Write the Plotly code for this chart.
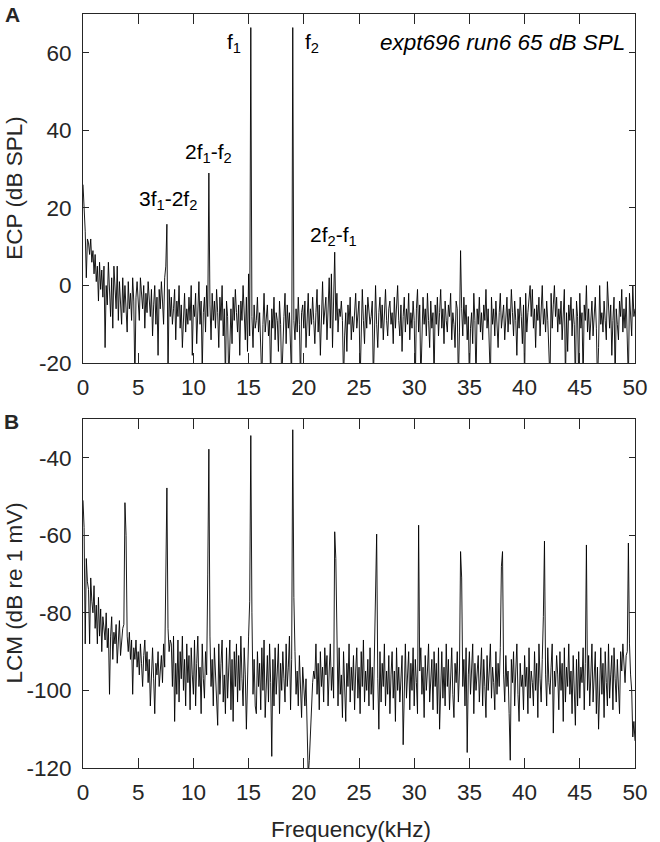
import plotly.graph_objects as go

# spectrum bin spacing (kHz)
FREQ_STEP_KHZ = 0.1

# Panel A: ear-canal pressure, dB SPL, one value per 0.1 kHz bin (None = tone bin, see peaks below)
ecp_floor_db = [
    26, 19, 14, 2, 12, 11, 8, 12, 6, 9,              # 0
    3, 8, 1, 5, -4, 6, -1, 4, -3, 5,                 # 1
    -16, 0, -5, 6, -3, -8, 2, -11, 5, -2,            # 2
    -6, 5, -9, 1, -4, -10, 2, -7, 0, -5,             # 3
    -12, 1, -6, -2, -9, 2, -4, -25, -3, 1,           # 4
    -5, -9, 2, -3, -6, 0, -11, -2, -7, 1,            # 5
    -4, -8, -1, -13, -5, 0, -10, -3, -18, -1,        # 6
    -6, 1, -4, -10, 2, 5, None, -25, -1, -8,         # 7
    -3, -10, -6, -1, -14, -4, -8, 0, -11, -5,        # 8
    -16, -7, -2, -12, -6, -10, -3, -9, 0, -18,       # 9
    -5, -8, -2, -15, -6, 1, -10, -4, -22, -7,        # 10
    -3, -12, 0, -8, None, -5, -14, -2, -9, -4,       # 11
    -11, -1, -7, -16, -3, -9, 0, -13, -6, -25,       # 12
    -4, -8, -25, -11, -6, -15, -3, -9, -1, -7,       # 13
    -12, -5, -18, -4, -9, 0, -7, -14, -3, -17,       # 14
    3, -13, None, -8, -16, -5, -11, -9, -3, -12,     # 15
    -7, -15, -25, -10, -2, -12, -8, -5, -13, -9,     # 16
    -25, -6, -11, -3, -14, -7, -9, -17, -4, -10,     # 17
    -25, -13, -8, -2, -15, -5, -11, -7, -19, -25,    # 18
    None, -9, -14, -6, -12, -3, -10, -25, -7, -5,    # 19
    -11, -4, -16, -8, -2, -13, -6, -10, -3, -9,      # 20
    -15, -7, -1, -12, -5, -18, -8, 1, -10, -6,       # 21
    -3, -14, -7, 2, -11, 3, -16, -4, None, -9,       # 22
    -2, -12, -6, -8, -4, -9, -25, -13, -7, -17,      # 23
    -5, -10, -3, -14, -8, -12, -6, -2, -11, -7,      # 24
    -4, -25, -8, -1, -9, -15, -5, -11, -3, -7,       # 25
    -10, -8, -4, -25, -6, 0, -10, -16, -7, -3,       # 26
    -11, -5, -14, -8, -1, -9, -13, -6, -4, -10,      # 27
    -7, -15, -3, -11, -6, 0, -9, -13, -5, -17,       # 28
    -8, -3, -12, -6, -10, -2, -14, -7, -11, -4,      # 29
    -9, -25, -6, -1, -12, -5, -25, -14, -3, -10,     # 30
    -6, -13, -2, -9, -16, -4, -11, -7, -25, -5,      # 31
    -10, -3, -13, -7, -1, -11, -6, -15, -4, -9,      # 32
    -12, -5, -8, -2, -14, -7, -10, -16, -4, -6,      # 33
    -25, -12, None, -6, -13, -3, -10, -5, -14, -8,   # 34
    -25, -11, -7, -15, -2, -9, -25, -6, -10, -3,     # 35
    -12, -7, -14, -5, -9, -1, -11, -6, -14, -25,     # 36
    -3, -10, -6, -13, -4, -9, -16, -7, -2, -11,      # 37
    -8, -5, -14, -9, -3, -12, -6, -10, -1, -7,       # 38
    -13, -4, -9, -18, -6, -11, -3, -8, -15, -5,      # 39
    -25, -2, -12, -7, -4, 0, -8, -1, -11, -6,        # 40
    -16, -5, -9, -3, -13, -7, 0, -10, -6, -12,       # 41
    -4, -9, -15, -25, -2, -11, -5, 0, -8, -3,        # 42
    -12, -6, -10, -4, -14, -8, -1, -25, -7, -17,     # 43
    -5, -9, -3, -13, -6, -10, -25, -4, -8, -25,      # 44
    -2, -11, -7, -25, -5, -9, 0, -12, -6, -14,       # 45
    -8, -4, -13, -9, -3, -11, -25, -16, 0, -10,      # 46
    -7, -12, -4, -9, -14, 1, -8, -11, -5, -18,       # 47
    -9, -3, -25, -6, -10, -14, -4, -8, -1, -12,      # 48
    -6, -11, -3, -15, -25, -2, -9, -13, 0, -8,       # 49
    -6,                                              # 50
]
ecp_peak_khz = [7.6, 11.4, 15.2, 19.0, 22.8, 34.2]
ecp_peak_db = [15.8, 29.0, 66.5, 66.5, 8.6, 9.0]

# Panel B: cochlear microphonic, dB re 1 mV
lcm_floor_db = [
    -51, -58, -88, -66, -72, -74, -88, -71, -77, -80,          # 0
    -73, -84, -78, -88, -76, -86, -79, -90, -81, -84,          # 1
    -87, -80, -89, -84, -101, -86, -81, -92, -85, -88,         # 2
    -83, -93, -87, -82, -91, -86, -84, -83, None, -60,         # 3
    -86, -90, -85, -92, -87, -101, -89, -92, -87, -94,         # 4
    -90, -96, -88, -93, -99, -91, -87, -95, -90, -98,          # 5
    -92, -104, -94, -89, -97, -106, -93, -96, -90, -99,        # 6
    -95, -91, -98, -88, -94, -65, None, -84, -90, -87,         # 7
    -88, -99, -86, -108, -93, -101, -87, -103, -90, -97,       # 8
    -86, -100, -92, -104, -88, -98, -91, -105, -89, -96,       # 9
    -101, -87, -104, -93, -86, -99, -94, -106, -88, -97,       # 10
    -102, -90, -96, -70, None, -86, -99, -92, -104, -89,       # 11
    -95, -100, -109, -88, -101, -93, -87, -103, -96, -106,     # 12
    -89, -102, -94, -87, -105, -92, -108, -90, -99, -88,       # 13
    -103, -91, -100, -86, -97, -104, -89, -96, -110, -92,      # 14
    -86, -77, None, -80, -101, -92, -104, -106, -90, -99,      # 15
    -93, -105, -89, -100, -87, -107, -95, -91, -103, -88,      # 16
    -98, -117, -92, -104, -89, -101, -95, -88, -106, -93,      # 17
    -100, -90, -97, -103, -88, -99, -94, -86, -105, -92,       # 18
    None, -76, -90, -101, -95, -104, -91, -99, -107, -94,      # 19
    -99, -104, -97, -112, -122, -118, -110, -102, -98, -95,    # 20
    -97, -88, -101, -93, -105, -90, -99, -94, -103, -89,       # 21
    -96, -91, -104, -95, -88, -100, -94, -102, None, -66,      # 22
    -92, -104, -89, -101, -96, -107, -90, -98, -108, -93,      # 23
    -99, -88, -103, -94, -100, -91, -105, -95, -89, -102,      # 24
    -94, -106, -90, -99, -87, -103, -95, -100, -92, -104,      # 25
    -89, -101, -94, -105, -91, -72, None, -97, -110, -90,      # 26
    -103, -93, -99, -88, -104, -95, -101, -91, -106, -96,      # 27
    -90, -102, -95, -108, -89, -100, -94, -103, -97, -91,      # 28
    -114, -95, -88, -102, -96, -90, -105, -93, -100, -89,      # 29
    -104, -92, -98, -106, None, -95, -89, -101, -94, -107,     # 30
    -91, -100, -95, -88, -103, -97, -92, -105, -90, -99,       # 31
    -93, -106, -89, -110, -96, -90, -102, -94, -104, -88,      # 32
    -99, -92, -105, -95, -89, -101, -107, -93, -98, -90,       # 33
    -103, -95, None, -71, -99, -92, -104, -89, -116, -96,      # 34
    -90, -101, -94, -88, -106, -93, -100, -96, -91, -103,      # 35
    -97, -89, -104, -92, -99, -107, -91, -100, -95, -88,       # 36
    -102, -94, -98, -105, -90, -101, -93, -99, -89, -68,       # 37
    None, -96, -103, -91, -99, -95, -106, -118, -92, -98,      # 38
    -90, -104, -95, -88, -101, -108, -93, -99, -96, -105,      # 39
    -91, -99, -94, -106, -89, -102, -95, -98, -104, -90,       # 40
    -100, -93, -107, -88, -97, -103, -92, -81, None, -96,      # 41
    -104, -89, -98, -101, -94, -88, -111, -95, -99, -91,       # 42
    -96, -105, -90, -100, -93, -108, -89, -103, -94, -99,      # 43
    -88, -101, -95, -106, -91, -99, -109, -92, -104, -90,      # 44
    -102, -94, -98, -89, -105, -93, None, -100, -91, -104,     # 45
    -95, -88, -103, -97, -90, -106, -94, -110, -99, -89,       # 46
    -101, -93, -107, -90, -98, -104, -88, -102, -96, -91,      # 47
    -105, -89, -97, -103, -92, -99, -106, -90, -95, -88,       # 48
    -93, -98, -91, -90, None, -88, -96, -100, -112, -108,      # 49
    -113,                                                      # 50
]
lcm_peak_khz = [3.8, 7.6, 11.4, 15.2, 19.0, 22.8, 26.6, 30.4, 34.2, 38.0, 41.8, 45.6, 49.4]
lcm_peak_db = [-51.6, -47.8, -37.8, -34.3, -32.8, -59.1, -59.7, -57.4, -64.2, -64.2, -61.5, -62.5, -62.0]

x_ticks = [0, 5, 10, 15, 20, 25, 30, 35, 40, 45, 50]
ecp_ticks = [-20, 0, 20, 40, 60]
lcm_ticks = [-120, -100, -80, -60, -40]

# distortion product labels on panel A: (text, kHz, dB)
dp_labels = [
    ("f<sub>1</sub>", 13.7, 62.6),
    ("f<sub>2</sub>", 20.7, 62.6),
    ("2f<sub>1</sub>-f<sub>2</sub>", 11.4, 34.2),
    ("3f<sub>1</sub>-2f<sub>2</sub>", 7.7, 22.0),
    ("2f<sub>2</sub>-f<sub>1</sub>", 22.7, 12.7),
]


def fill_peaks(floor, peak_khz, peak_db):
    vals = list(floor)
    for f, v in zip(peak_khz, peak_db):
        vals[round(f / FREQ_STEP_KHZ)] = v
    assert None not in vals
    return vals


ecp_db = fill_peaks(ecp_floor_db, ecp_peak_khz, ecp_peak_db)
lcm_db = fill_peaks(lcm_floor_db, lcm_peak_khz, lcm_peak_db)
freq_khz = [i * FREQ_STEP_KHZ for i in range(len(ecp_db))]

INK = "#262626"
FONT = "Liberation Sans, Arial, sans-serif"
FS = 22.5

fig = go.Figure()
fig.add_trace(go.Scatter(x=freq_khz, y=ecp_db, mode="lines", line=dict(color="black", width=0.9),
                         xaxis="x", yaxis="y", showlegend=False, hoverinfo="skip"))
fig.add_trace(go.Scatter(x=freq_khz, y=lcm_db, mode="lines", line=dict(color="black", width=0.9),
                         xaxis="x2", yaxis="y2", showlegend=False, hoverinfo="skip"))

axis_style = dict(showline=True, linecolor=INK, linewidth=1, mirror="ticks", ticks="inside",
                  tickcolor=INK, showgrid=False, zeroline=False,
                  tickfont=dict(size=FS, color=INK, family=FONT))
x_style = dict(range=[0, 50], tickvals=x_ticks, ticktext=[str(t) for t in x_ticks],
               ticklen=10, ticklabelstandoff=4, domain=[0, 1], **axis_style)

fig.update_layout(
    width=660, height=842,
    margin=dict(l=83, r=22, t=14, b=74),
    plot_bgcolor="white", paper_bgcolor="white",
    font=dict(family=FONT, color=INK),
    xaxis=dict(anchor="y", **x_style),
    yaxis=dict(domain=[0.537, 1], range=[-20, 70], tickvals=ecp_ticks,
               ticktext=[str(t) for t in ecp_ticks], anchor="x", ticklen=6,
               ticklabelstandoff=6, **axis_style),
    xaxis2=dict(anchor="y2", **x_style),
    yaxis2=dict(domain=[0, 0.463], range=[-120, -30], tickvals=lcm_ticks,
                ticktext=[str(t) for t in lcm_ticks], anchor="x2", ticklen=6,
                ticklabelstandoff=6, **axis_style),
)

for text, fx, fy in dp_labels:
    fig.add_annotation(x=fx, y=fy, xref="x", yref="y", text=text, showarrow=False,
                       font=dict(size=21, color="black"))
fig.add_annotation(x=49.3, y=62.6, xref="x", yref="y", text="<i>expt696 run6 65 dB SPL</i>",
                   xanchor="right", showarrow=False, font=dict(size=FS, color="black"))

# panel letters and axis titles
paper_notes = [
    ("<b>A</b>", -0.128, 0.999, 0, 21),
    ("<b>B</b>", -0.130, 0.460, 0, 21),
    ("ECP (dB SPL)", -0.124, 0.769, -90, FS),
    ("LCM (dB re 1 mV)", -0.124, 0.232, -90, FS),
    ("Frequency(kHz)", 0.485, -0.081, 0, FS),
]
for text, px, py, ang, size in paper_notes:
    fig.add_annotation(x=px, y=py, xref="paper", yref="paper", text=text, textangle=ang,
                       showarrow=False, xanchor="center", yanchor="middle",
                       font=dict(size=size, color=INK))

# page body margin would otherwise shift the figure by 8px
fig.write_html("out.html", config={"displayModeBar": False},
               post_script="document.body.style.margin='0';")
